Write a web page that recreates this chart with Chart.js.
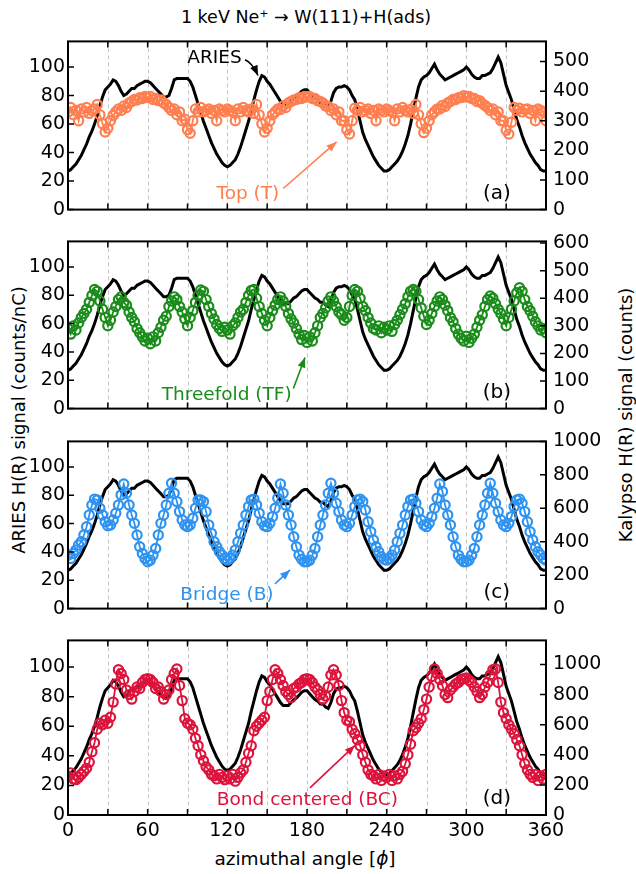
<!DOCTYPE html>
<html>
<head>
<meta charset="utf-8">
<script src="https://cdn.jsdelivr.net/npm/chart.js@4.4.0/dist/chart.umd.min.js"></script>
<style>
  html, body { margin: 0; padding: 0; background: #fff; }
  body { width: 636px; height: 874px; position: relative; overflow: hidden; font-family: "DejaVu Sans", sans-serif; }
  canvas { position: absolute; left: 0; }
  .txt { position: absolute; white-space: nowrap; color: #000; transform: translate(-50%, -50%); }
  .rot { transform: translate(-50%, -50%) rotate(-90deg); }
</style>
</head>
<body>
<div class="txt" style="left:306px; top:17px; font-size:17.5px;">1 keV Ne<sup style="font-size:11px;">+</sup> &rarr; W(111)+H(ads)</div>
<div class="txt rot" style="left:18px; top:420px; font-size:18px;">ARIES H(R) signal (counts/nC)</div>
<div class="txt rot" style="left:625px; top:415px; font-size:18px;">Kalypso H(R) signal (counts)</div>
<div class="txt" style="left:305px; top:858px; font-size:18.5px;">azimuthal angle [<i>&#x3D5;</i>]</div>

<script>
// azimuthal angle grid, 2 degree steps from 0 to 360
const angles = Array.from({ length: 181 }, (_, i) => i * 2);

// tick values
const xTicks = [0, 30, 60, 90, 120, 150, 180, 210, 240, 270, 300, 330, 360];
const leftTicks = [0, 20, 40, 60, 80, 100];
const rightTicksA = [0, 100, 200, 300, 400, 500];
const rightTicksB = [0, 100, 200, 300, 400, 500, 600];
const rightTicksCD = [0, 200, 400, 600, 800, 1000];

// ARIES H(R) signal (counts/nC), same curve in every panel
const aries = [
  27, 28, 30, 32, 35, 38, 42, 46, 51, 55,
  60, 66, 73, 79, 84, 86, 88, 91, 90, 87,
  83, 80, 81, 83, 85, 85, 87, 88, 89, 90,
  90, 89, 87, 85, 83, 81, 79, 79, 80, 85,
  91, 92, 92, 92, 92, 92, 90, 86, 80, 74,
  68, 62, 57, 52, 47, 43, 39, 36, 33, 31,
  30, 31, 33, 35, 39, 44, 50, 56, 62, 70,
  77, 84, 90, 94, 93, 90, 88, 85, 82, 79,
  76, 74, 74, 74, 76, 78, 79, 81, 83, 84,
  84, 82, 80, 78, 77, 75, 75, 73, 72, 76,
  82, 85, 86, 86, 87, 86, 84, 80, 77, 70,
  62, 54, 49, 45, 41, 37, 34, 31, 29, 27,
  27, 28, 30, 32, 34, 37, 41, 46, 52, 60,
  69, 78, 86, 91, 93, 94, 96, 99, 102, 98,
  95, 93, 91, 92, 93, 94, 95, 96, 97, 98,
  100, 98, 95, 93, 92, 92, 94, 94, 95, 96,
  99, 103, 107, 103, 95, 87, 82, 77, 70, 63,
  58, 52, 47, 43, 39, 36, 33, 31, 28, 27,
  27
];

// Kalypso H(R) signal (counts) per adsorption site
const topSite = [
  330, 345, 320, 335, 300, 340, 330, 345, 325, 335,
  340, 355, 320, 290, 262, 275, 300, 318, 330, 340,
  335, 350, 345, 360, 365, 372, 370, 378, 375, 382,
  378, 382, 372, 375, 368, 370, 360, 355, 345, 335,
  340, 320, 330, 300, 305, 270, 258, 300, 340, 330,
  345, 330, 335, 340, 325, 335, 300, 340, 335, 330,
  340, 335, 330, 300, 340, 330, 345, 335, 330, 340,
  325, 355, 320, 290, 262, 275, 300, 320, 330, 340,
  338, 350, 345, 360, 365, 370, 372, 378, 375, 382,
  380, 382, 375, 375, 368, 365, 360, 350, 348, 335,
  340, 320, 330, 300, 300, 270, 255, 300, 342, 335,
  345, 330, 335, 340, 325, 335, 300, 340, 335, 330,
  340, 335, 330, 300, 340, 330, 345, 335, 330, 338,
  325, 355, 320, 290, 260, 275, 300, 320, 330, 340,
  340, 352, 348, 360, 365, 372, 372, 378, 378, 385,
  380, 382, 375, 375, 365, 368, 358, 352, 345, 335,
  340, 320, 330, 300, 300, 268, 255, 295, 345, 335,
  342, 330, 338, 340, 325, 335, 300, 340, 335, 330,
  300
];

const threefold = [
  290, 270, 300, 285, 310, 330, 345, 360, 385, 410,
  432, 425, 390, 360, 330, 300, 320, 350, 370, 395,
  405, 385, 375, 350, 330, 315, 290, 275, 260, 245,
  255, 235, 260, 245, 275, 295, 320, 335, 370, 390,
  405, 395, 370, 350, 325, 300, 330, 355, 385, 410,
  430, 425, 395, 370, 345, 325, 305, 290, 280, 295,
  285, 270, 300, 310, 330, 350, 360, 385, 410, 428,
  432, 400, 370, 345, 320, 300, 330, 355, 375, 395,
  405, 390, 370, 345, 325, 310, 290, 270, 250, 265,
  240, 260, 245, 275, 300, 330, 345, 365, 390, 405,
  390, 370, 350, 340, 320, 330, 370, 410, 432, 425,
  400, 370, 355, 330, 310, 290, 285, 300, 275, 295,
  285, 300, 280, 305, 320, 340, 360, 380, 405, 425,
  432, 425, 395, 365, 335, 305, 320, 345, 370, 390,
  405, 395, 375, 355, 330, 315, 290, 270, 255, 245,
  262, 240, 255, 270, 295, 320, 340, 370, 395, 408,
  400, 380, 360, 345, 325, 300, 330, 360, 390, 420,
  438, 425, 395, 370, 355, 335, 315, 300, 285, 290,
  275
];

const bridge = [
  320, 300, 330, 350, 380, 400, 440, 490, 560, 620,
  655, 650, 600, 560, 520, 495, 500, 530, 570, 620,
  680, 745, 690, 620, 560, 510, 440, 370, 330, 300,
  280, 290, 320, 360, 440, 510, 560, 620, 690, 750,
  690, 640, 580, 530, 500, 490, 500, 540, 600, 650,
  650, 640, 580, 500, 450, 400, 370, 340, 320, 300,
  290, 300, 320, 350, 400, 450, 500, 560, 610, 650,
  655, 620, 570, 520, 495, 490, 510, 550, 600, 660,
  745, 690, 620, 560, 500, 430, 370, 320, 295, 280,
  280, 290, 320, 360, 430, 500, 560, 620, 690, 750,
  690, 630, 580, 530, 500, 490, 510, 560, 610, 650,
  655, 640, 590, 520, 460, 410, 370, 340, 310, 295,
  290, 300, 320, 350, 400, 450, 500, 560, 610, 650,
  655, 630, 580, 530, 500, 490, 510, 550, 600, 660,
  745, 700, 620, 560, 500, 430, 370, 320, 295, 280,
  280, 290, 320, 360, 430, 500, 560, 620, 690, 750,
  690, 630, 580, 530, 500, 490, 510, 550, 610, 650,
  655, 630, 580, 520, 460, 410, 370, 340, 320, 300,
  290
];

const bondCentered = [
  260, 280, 240, 235, 250, 270, 290, 310, 350, 420,
  480, 570, 610, 600, 630, 610, 650, 750, 870, 965,
  940, 900, 830, 800, 770, 820, 850, 840, 880, 900,
  905, 900, 880, 840, 850, 820, 770, 800, 830, 900,
  940, 970, 860, 760, 640, 610, 600, 570, 510, 460,
  400, 360, 320, 300, 270, 260, 240, 270, 250, 235,
  260, 240, 270, 225, 250, 280, 300, 350, 410, 460,
  560, 590, 610, 630, 650, 760, 820, 900, 965, 940,
  900, 860, 820, 800, 780, 840, 850, 870, 880, 900,
  905, 900, 880, 850, 830, 800, 770, 790, 850, 930,
  965, 930, 860, 760, 680, 630, 620, 570, 540, 500,
  460, 400, 350, 300, 270, 260, 240, 270, 230, 260,
  250, 270, 230, 260, 240, 270, 290, 340, 400, 470,
  560, 580, 610, 640, 700, 770, 850, 920, 970, 940,
  900, 860, 800, 780, 830, 850, 870, 880, 900, 905,
  910, 895, 880, 850, 820, 780, 800, 850, 880, 930,
  965, 970, 880, 750, 680, 640, 600, 570, 540, 500,
  460, 400, 340, 300, 270, 250, 270, 230, 260, 240,
  270
];

const FONT = '"DejaVu Sans", sans-serif';

function toPoints(vals) {
  return vals.map((v, i) => ({ x: angles[i], y: v }));
}

function drawArrow(ctx, x0, y0, x1, y1, ctrl, color) {
  ctx.strokeStyle = color;
  ctx.fillStyle = color;
  ctx.lineWidth = 1.6;
  ctx.beginPath();
  ctx.moveTo(x0, y0);
  let ang;
  if (ctrl) {
    ctx.quadraticCurveTo(ctrl[0], ctrl[1], x1, y1);
    ang = Math.atan2(y1 - ctrl[1], x1 - ctrl[0]);
  } else {
    ctx.lineTo(x1, y1);
    ang = Math.atan2(y1 - y0, x1 - x0);
  }
  ctx.stroke();
  const L = 10, W = 4;
  const bx = x1 - L * Math.cos(ang), by = y1 - L * Math.sin(ang);
  ctx.beginPath();
  ctx.moveTo(x1, y1);
  ctx.lineTo(bx + W * Math.sin(ang), by - W * Math.cos(ang));
  ctx.lineTo(bx - W * Math.sin(ang), by + W * Math.cos(ang));
  ctx.closePath();
  ctx.fill();
}

// dashed grid, inward ticks, frame, labels and arrows
const deco = {
  id: 'deco',
  beforeDatasetsDraw(chart) {
    const { ctx, chartArea: a, scales: { x } } = chart;
    ctx.save();
    ctx.strokeStyle = '#c4c4c4';
    ctx.lineWidth = 1;
    ctx.setLineDash([4, 3]);
    x.ticks.forEach(t => {
      if (t.value <= x.min || t.value >= x.max) return;
      const px = Math.round(x.getPixelForValue(t.value)) + 0.5;
      ctx.beginPath();
      ctx.moveTo(px, a.top);
      ctx.lineTo(px, a.bottom);
      ctx.stroke();
    });
    ctx.restore();
  },
  afterDraw(chart, args, opts) {
    const { ctx, chartArea: a, scales: { x, y, y2 } } = chart;
    const px = v => x.getPixelForValue(v);
    const py = v => y.getPixelForValue(v);
    ctx.save();
    ctx.strokeStyle = '#000';
    ctx.lineWidth = 1.5;
    const len = 6;
    ctx.beginPath();
    x.ticks.forEach(t => {
      const p = px(t.value);
      ctx.moveTo(p, a.bottom); ctx.lineTo(p, a.bottom - len);
      ctx.moveTo(p, a.top); ctx.lineTo(p, a.top + len);
    });
    y.ticks.forEach(t => {
      const p = py(t.value);
      ctx.moveTo(a.left, p); ctx.lineTo(a.left + len, p);
    });
    y2.ticks.forEach(t => {
      const p = y2.getPixelForValue(t.value);
      ctx.moveTo(a.right, p); ctx.lineTo(a.right - len, p);
    });
    ctx.stroke();
    ctx.lineWidth = 2;
    ctx.strokeRect(a.left, a.top, a.right - a.left, a.bottom - a.top);

    ctx.textAlign = 'center';
    ctx.textBaseline = 'middle';
    ctx.fillStyle = '#000';
    ctx.font = '20px ' + FONT;
    ctx.fillText(opts.label, px(323), py(11));

    ctx.font = '18.5px ' + FONT;
    opts.notes.forEach(n => {
      ctx.fillStyle = n.color;
      ctx.fillText(n.text, px(n.at[0]), py(n.at[1]));
      const ctrl = n.ctrl ? [px(n.ctrl[0]), py(n.ctrl[1])] : null;
      drawArrow(ctx, px(n.from[0]), py(n.from[1]), px(n.to[0]), py(n.to[1]), ctrl, n.color);
    });
    ctx.restore();
  }
};

function setTicks(list) {
  return s => { s.ticks = list.map(v => ({ value: v })); };
}

function makePanel(p) {
  const canvas = document.createElement('canvas');
  const xh = p.showX ? 874 - (p.top - 12) - 12 - p.h : 12;
  const ch = 12 + p.h + xh;
  canvas.width = 636;
  canvas.height = ch;
  canvas.style.top = (p.top - 12) + 'px';
  document.body.appendChild(canvas);

  const tickFont = { family: FONT, size: 19 };
  new Chart(canvas, {
    type: 'line',
    data: {
      datasets: [
        {
          data: toPoints(p.values),
          yAxisID: 'y2',
          borderColor: p.color,
          borderWidth: 1.8,
          pointRadius: 4.6,
          pointBorderWidth: 2.2,
          pointBorderColor: p.color,
          pointBackgroundColor: 'rgba(0,0,0,0)',
          fill: false,
          tension: 0,
          clip: 1
        },
        {
          data: toPoints(aries),
          yAxisID: 'y',
          borderColor: '#000',
          borderWidth: 3,
          pointRadius: 0,
          fill: false,
          tension: 0
        }
      ]
    },
    options: {
      responsive: false,
      animation: false,
      events: [],
      layout: { padding: { left: 8, right: 30, top: 12, bottom: 0 } },
      plugins: {
        legend: { display: false },
        tooltip: { enabled: false },
        deco: { label: p.label, notes: p.notes }
      },
      scales: {
        x: {
          type: 'linear', min: 0, max: 360,
          afterBuildTicks: setTicks(xTicks),
          ticks: {
            display: !!p.showX, autoSkip: false, maxRotation: 0,
            padding: 5, color: '#000', font: tickFont,
            callback: v => (v % 60 === 0 ? String(v) : '')
          },
          grid: { display: false, drawTicks: false },
          border: { display: false },
          afterFit: s => { s.height = xh; }
        },
        y: {
          position: 'left', min: 0, max: 118,
          afterBuildTicks: setTicks(leftTicks),
          ticks: { autoSkip: false, padding: 3, color: '#000', font: tickFont, callback: v => String(v) },
          grid: { display: false, drawTicks: false },
          border: { display: false },
          afterFit: s => { s.width = 60; }
        },
        y2: {
          position: 'right', min: 0, max: p.rmax,
          afterBuildTicks: setTicks(p.rticks),
          ticks: { autoSkip: false, padding: 7, color: '#000', font: tickFont, callback: v => String(v) },
          grid: { display: false, drawTicks: false },
          border: { display: false },
          afterFit: s => { s.width = 60; }
        }
      }
    },
    plugins: [deco]
  });
}

makePanel({
  top: 35, h: 181, rmax: 568, rticks: rightTicksA, values: topSite, color: '#FF7F50', label: '(a)',
  notes: [
    { text: 'ARIES', color: '#000', at: [110.3, 106.3], from: [133.3, 105.2], ctrl: [138.6, 103.3], to: [143.1, 94.1] },
    { text: 'Top (T)', color: '#FF7F50', at: [135.5, 10.5], from: [162.1, 14.8], to: [202.3, 47.5] }
  ]
});
makePanel({
  top: 235, h: 180, rmax: 606, rticks: rightTicksB, values: threefold, color: '#1a8c1a', label: '(b)',
  notes: [
    { text: 'Threefold (TF)', color: '#1a8c1a', at: [119.5, 9.8], from: [169.7, 14.2], to: [178.5, 36] }
  ]
});
makePanel({
  top: 435, h: 180, rmax: 1000, rticks: rightTicksCD, values: bridge, color: '#2e93f0', label: '(c)',
  notes: [
    { text: 'Bridge (B)', color: '#2e93f0', at: [119.7, 9.8], from: [155.9, 17.5], to: [167.2, 27.3] }
  ]
});
makePanel({
  top: 634, h: 181, rmax: 1160, rticks: rightTicksCD, values: bondCentered, color: '#DC143C', label: '(d)', showX: true,
  notes: [
    { text: 'Bond centered (BC)', color: '#DC143C', at: [180.3, 9.8], from: [182.2, 18.3], to: [216.1, 47] }
  ]
});
</script>
</body>
</html>
